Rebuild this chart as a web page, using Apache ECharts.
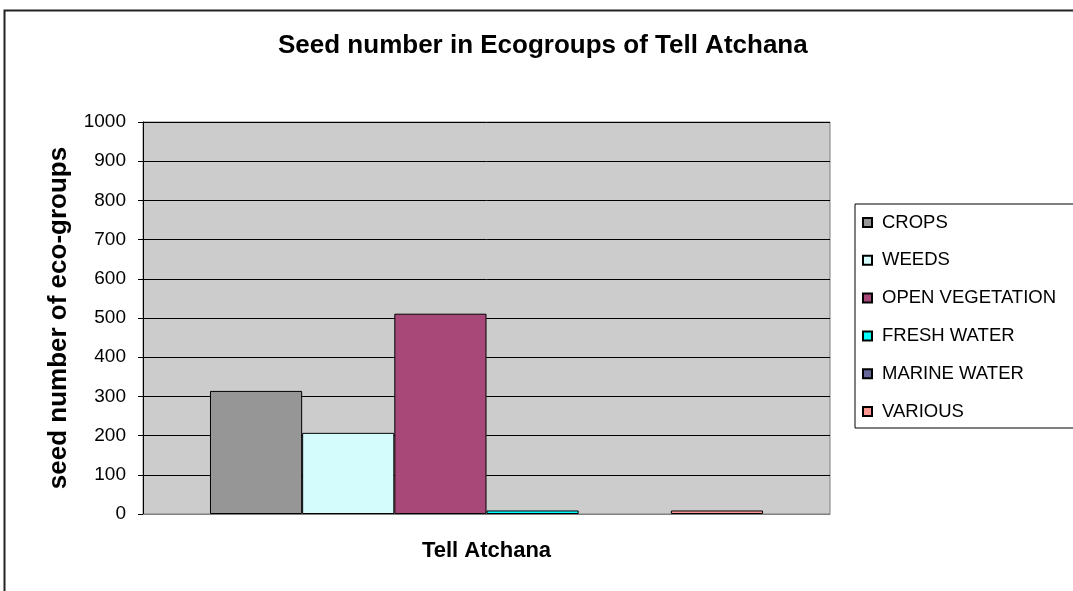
<!DOCTYPE html>
<html>
<head>
<meta charset="utf-8">
<script src="https://cdn.jsdelivr.net/npm/echarts@6/dist/echarts.min.js"></script>
<style>
html,body{margin:0;padding:0;background:#fff;}
#chart{width:1073px;height:591px;}
</style>
</head>
<body>
<div id="chart"></div>
<script>
const categories = ['Tell Atchana'];
const seriesNames = ['CROPS', 'WEEDS', 'OPEN VEGETATION', 'FRESH WATER', 'MARINE WATER', 'VARIOUS'];
const crops = [314];
const weeds = [207];
const openVegetation = [511];
const freshWater = [9];
const marineWater = [0];
const various = [9];
const seriesValues = [crops, weeds, openVegetation, freshWater, marineWater, various];
const colors = ['#969696', '#D4FCFC', '#A84878', '#00FFFF', '#666699', '#FF968F'];

const FONT = '"Liberation Sans", Arial, sans-serif';
const chart = echarts.init(document.getElementById('chart'));
chart.setOption({
  animation: false,
  backgroundColor: '#ffffff',
  title: {
    text: 'Seed number in Ecogroups of Tell Atchana',
    left: 273,
    top: 28,
    textStyle: { fontFamily: FONT, fontSize: 26, fontWeight: 'bold', color: '#000' }
  },
  graphic: [{
    type: 'rect',
    shape: { x: 4.5, y: 10.5, width: 1200, height: 700 },
    style: { fill: 'none', stroke: '#222', lineWidth: 2 },
    silent: true
  }],
  legend: {
    orient: 'vertical',
    left: 855,
    top: 204,
    padding: [9, 40, 7, 7],
    itemGap: 18.8,
    itemWidth: 9,
    itemHeight: 9,
    borderColor: '#000',
    borderWidth: 1,
    backgroundColor: '#fff',
    icon: 'rect',
    textStyle: { fontFamily: FONT, fontSize: 18.5, color: '#000', padding: [0, 0, 0, 5] },
    data: seriesNames
  },
  grid: {
    left: 143, top: 122, width: 687, height: 392,
    show: true, backgroundColor: '#CCCCCC', borderColor: '#808080', borderWidth: 1,
    containLabel: false
  },
  xAxis: {
    type: 'category',
    data: categories,
    axisLine: { lineStyle: { color: '#808080', width: 1 } },
    axisTick: { show: false },
    axisLabel: { fontFamily: FONT, fontSize: 22, fontWeight: 'bold', color: '#000', margin: 26 }
  },
  yAxis: {
    type: 'value',
    min: 0, max: 1000, interval: 100,
    name: 'seed number of eco-groups',
    nameLocation: 'middle',
    nameRotate: 90,
    nameGap: 71,
    nameMoveOverlap: false,
    nameTextStyle: { fontFamily: FONT, fontSize: 26, fontWeight: 'bold', color: '#000' },
    axisLine: { show: true, lineStyle: { color: '#000', width: 1 } },
    axisTick: { show: true, length: 5, inside: false, lineStyle: { color: '#000' } },
    axisLabel: { fontFamily: FONT, fontSize: 19, color: '#000', margin: 17, formatter: v => String(v) },
    splitLine: { show: true, lineStyle: { color: '#000', width: 1 } }
  },
  series: seriesNames.map((n, i) => ({
    name: n,
    type: 'bar',
    data: seriesValues[i].map(v => ({
      value: v,
      itemStyle: v === 0 ? { borderWidth: 0, opacity: 0 } : undefined
    })),
    barGap: '0%',
    barCategoryGap: '19.5%',
    itemStyle: { color: colors[i], borderColor: '#000', borderWidth: 1 }
  }))
});
</script>
</body>
</html>
